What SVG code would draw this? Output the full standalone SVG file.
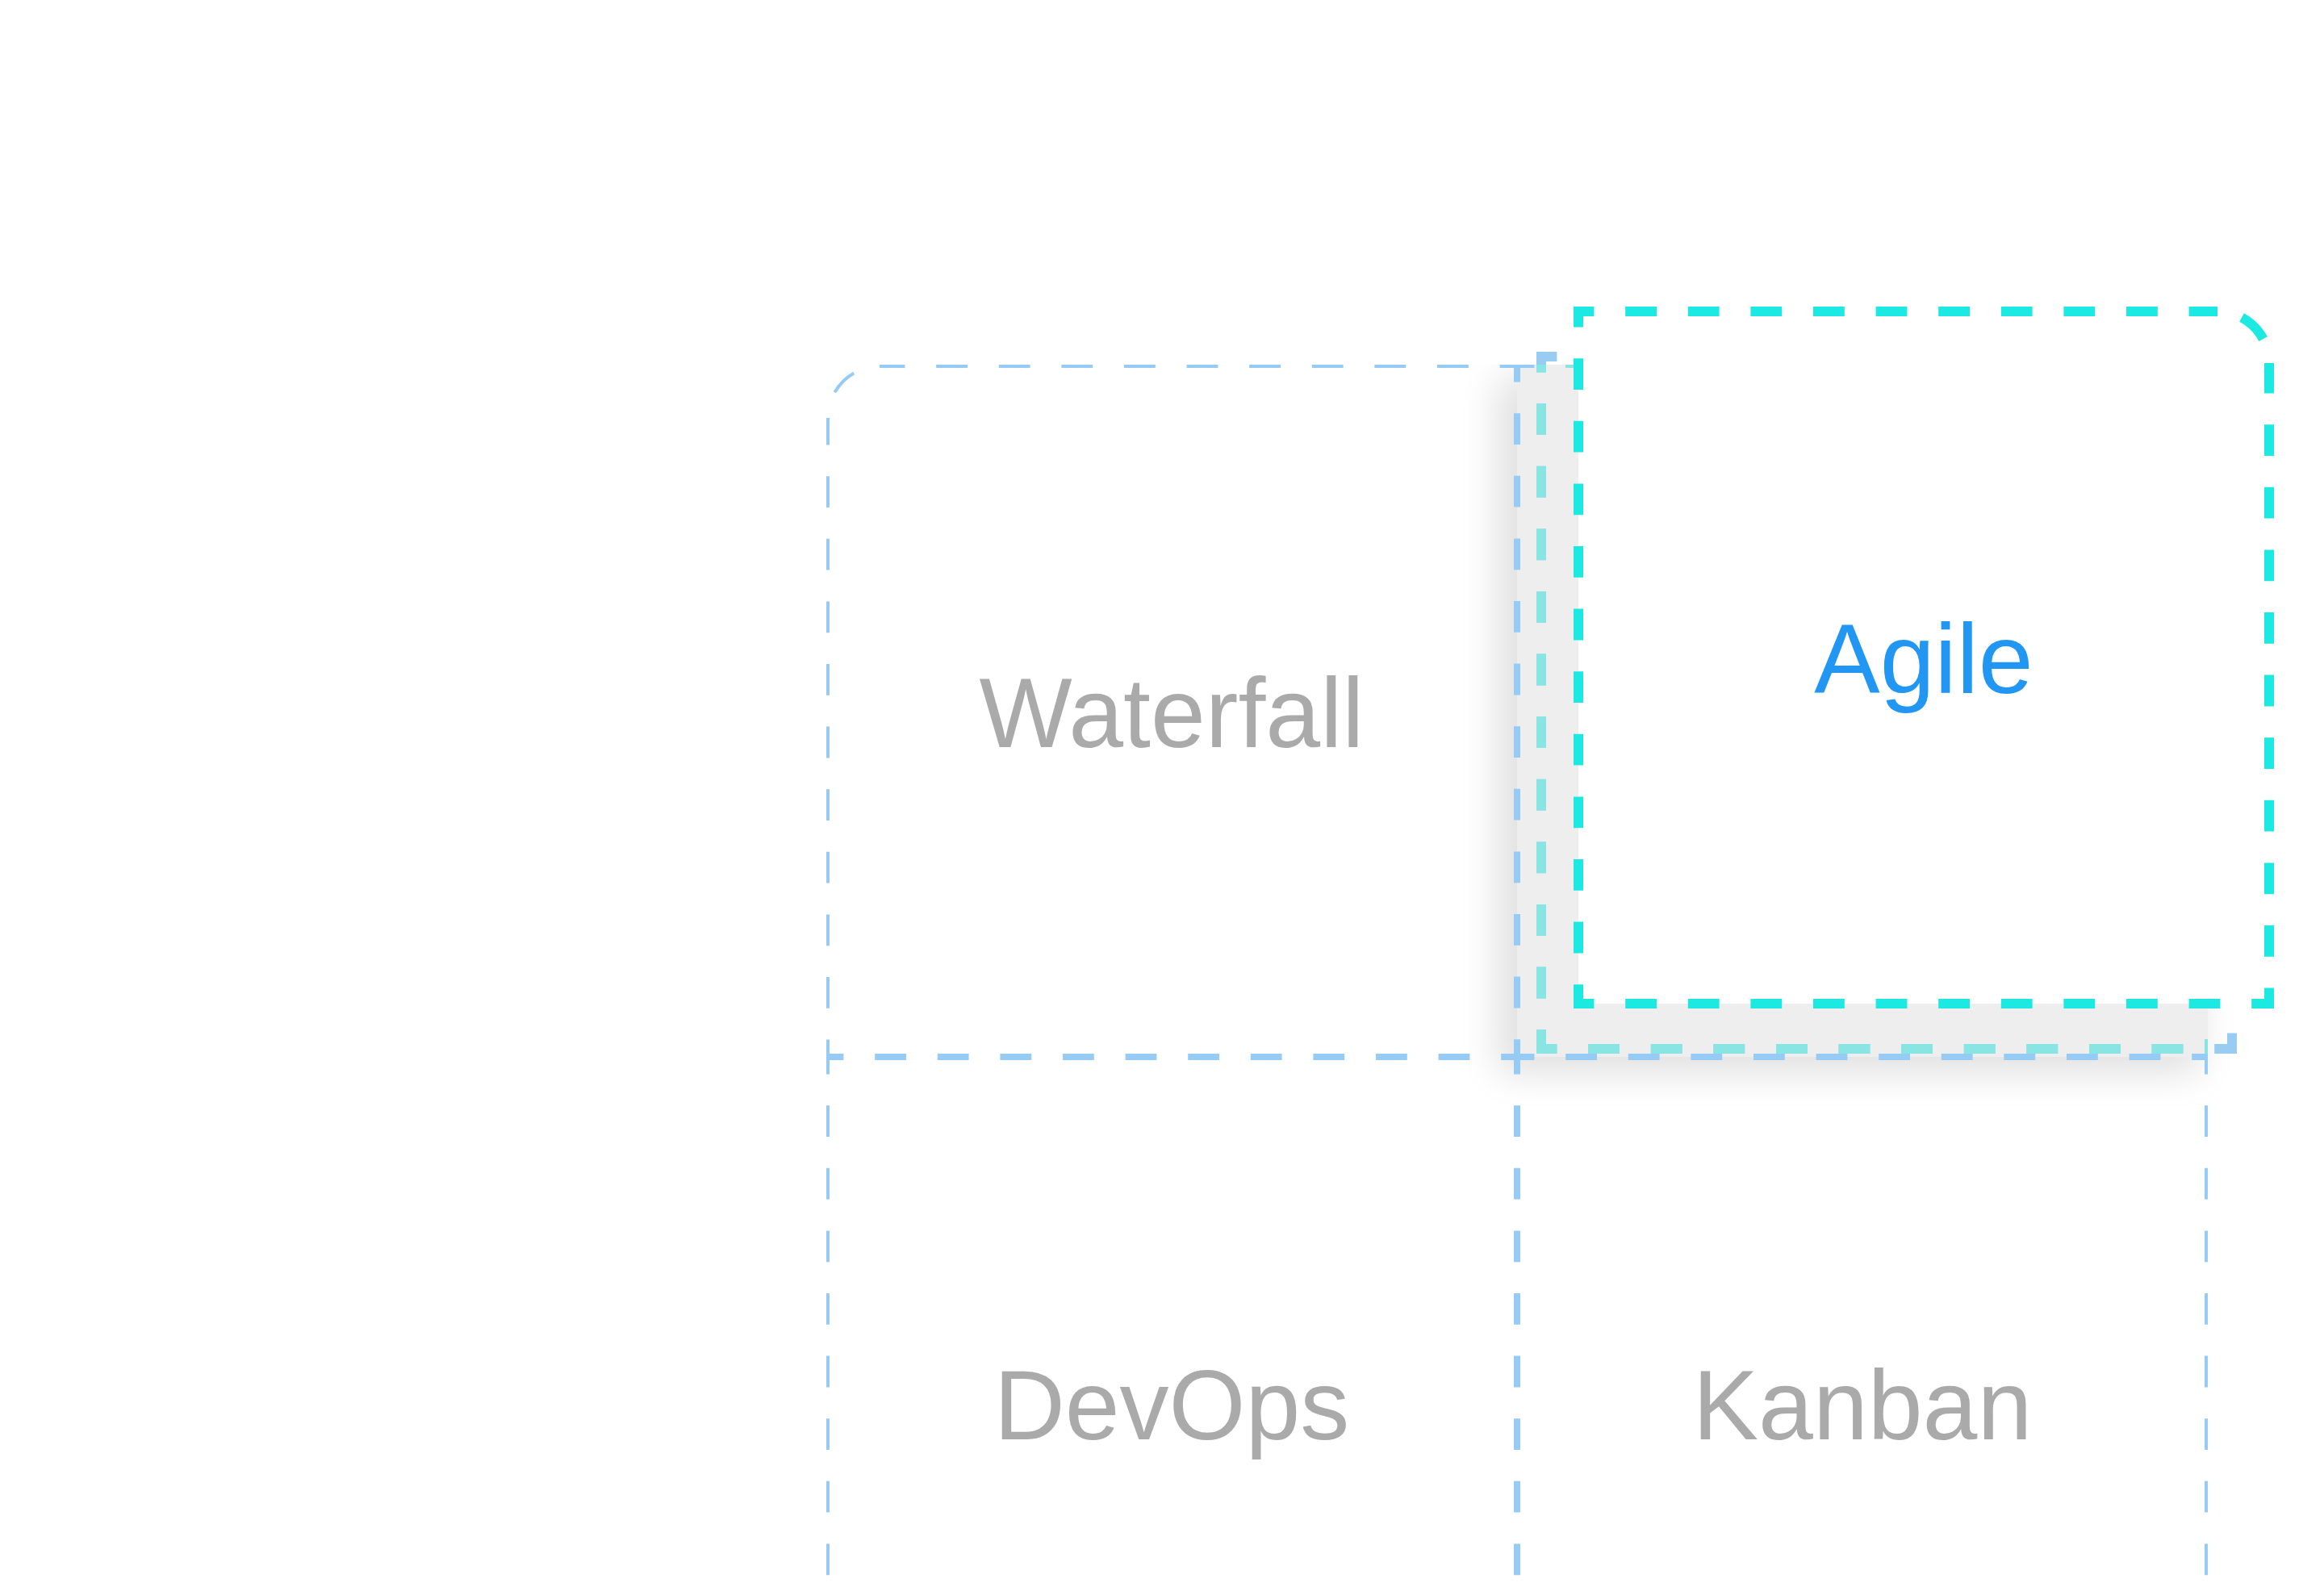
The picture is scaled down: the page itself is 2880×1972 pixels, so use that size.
<svg xmlns="http://www.w3.org/2000/svg" width="2880" height="1972" viewBox="0 0 2880 1972">
  <defs>
    <style>
      .b4 { fill: none; stroke: #95cbf4; stroke-width: 4; stroke-dasharray: 38.8 38.8; stroke-dashoffset: 17.4; }
      .b4c { fill: none; stroke: #88e5e3; stroke-width: 4; stroke-dasharray: 38.8 38.8; stroke-dashoffset: 17.4; }
      .c12 { fill: none; stroke: #1ce9e1; stroke-width: 12; stroke-dasharray: 38.8 38.8; stroke-dashoffset: 13.4; }
      .g12 { fill: none; stroke: #99ccf3; stroke-width: 12; stroke-dasharray: 38.8 38.8; stroke-dashoffset: 13.4; }
      .g12c { fill: none; stroke: #88e5e3; stroke-width: 12; stroke-dasharray: 38.8 38.8; stroke-dashoffset: 13.4; }
      .lbl { font-family: "Liberation Sans", Arial, sans-serif; font-size: 122px; text-anchor: middle; fill: #aaaaaa; }
      .sel { fill: #2196f3; }
    </style>
    <filter id="blur" x="-20%" y="-20%" width="140%" height="140%">
      <feGaussianBlur stdDeviation="24"/>
    </filter>
    <clipPath id="shClip"><rect x="0" y="452" width="2880" height="1520"/></clipPath>
    <clipPath id="grayClip"><rect x="1880" y="452" width="856" height="858"/></clipPath>
    <clipPath id="ghostClip"><rect x="1904" y="436" width="868" height="870"/></clipPath>
  </defs>
  <rect width="2880" height="1972" fill="#ffffff"/>

  <!-- drop shadow + placeholder fill -->
  <g id="placeholder-shadow" clip-path="url(#shClip)">
    <rect x="1856" y="468" width="870" height="862" fill="#000" opacity="0.12" filter="url(#blur)"/>
  </g>
  <rect id="placeholder-fill" x="1880" y="452" width="856" height="858" fill="#eeeeee"/>

  <g id="waterfall">
    <path class="b4" d="M1880,454 H1090"/>
    <path class="b4" d="M1090,454 A64,64 0 0 0 1026,518" style="stroke-dasharray:34 66.53;stroke-dashoffset:-33.27"/>
    <path class="b4" d="M1026,1310 V518"/>
    <path class="b4" d="M1878,452 V1310"/>
    <path class="b4" d="M1024,1308 H1880"/>
    <text class="lbl" x="1452" y="926">Waterfall</text>
  </g>

  <g id="devops">
    <path class="b4" d="M1024,1312 H1880"/>
    <path class="b4" d="M1026,1310 V2168"/>
    <path class="b4" d="M1878,1310 V2168"/>
    <text class="lbl" x="1452" y="1784">DevOps</text>
  </g>

  <g id="kanban">
    <path class="b4" d="M1880,1312 H2736"/>
    <path class="b4" d="M1882,1310 V2168"/>
    <path class="b4" d="M2734,1310 V2168"/>
    <text class="lbl" x="2308" y="1784">Kanban</text>
  </g>

  <g id="placeholder-border">
    <g>
      <path class="b4" d="M1880,454 H2736"/>
      <path class="b4" d="M1882,452 V1310"/>
      <path class="b4" d="M2734,452 V1310"/>
      <path class="b4" d="M1880,1308 H2736"/>
    </g>
    <g clip-path="url(#ghostClip)">
      <path class="b4c" d="M1880,454 H2736"/>
      <path class="b4c" d="M2734,452 V1310"/>
    </g>
  </g>

  <g id="agile-ghost">
    <g>
      <path class="g12" d="M1904,442 H2702"/>
      <path class="g12" d="M2702,442 A64,64 0 0 1 2766,506" style="stroke-dasharray:38 62.53;stroke-dashoffset:-31.27"/>
      <path class="g12" d="M2766,1306 V506"/>
      <path class="g12" d="M1904,1300 H2772"/>
      <path class="g12" d="M1910,436 V1306"/>
    </g>
    <g clip-path="url(#grayClip)">
      <path class="g12c" d="M1904,442 H2702"/>
      <path class="g12c" d="M2766,1306 V506"/>
      <path class="g12c" d="M1904,1300 H2772"/>
      <path class="g12c" d="M1910,436 V1306"/>
    </g>
  </g>

  <g id="agile">
    <path d="M1956,386 H2748 A64,64 0 0 1 2812,450 V1244 H1956 Z" fill="#ffffff"/>
    <path class="c12" d="M1950,386 H2748"/>
    <path class="c12" d="M2748,386 A64,64 0 0 1 2812,450" style="stroke-dasharray:38 62.53;stroke-dashoffset:-31.27"/>
    <path class="c12" d="M2812,1250 V450"/>
    <path class="c12" d="M1950,1244 H2818"/>
    <path class="c12" d="M1956,380 V1250"/>
    <text class="lbl sel" x="2384" y="859">Agile</text>
  </g>
</svg>
